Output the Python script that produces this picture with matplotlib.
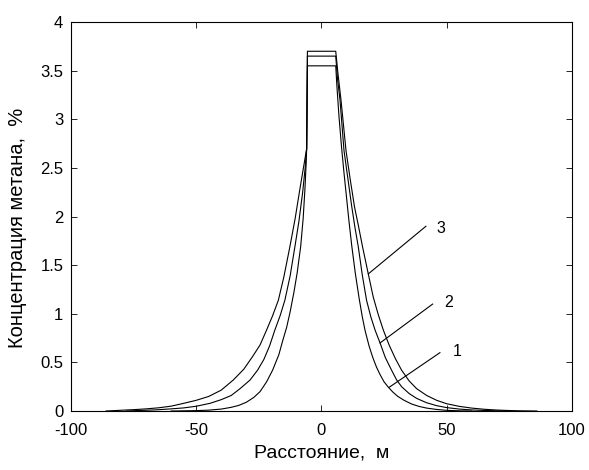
import numpy as np
import matplotlib.pyplot as plt

plt.rcParams['font.family'] = ['Liberation Sans', 'DejaVu Sans']
plt.rcParams['axes.unicode_minus'] = False

# profiles of methane concentration across the working, curves 1-3
x1 = [-60, -55, -50, -45, -40, -36, -33, -30, -27, -24.5, -21.9, -19.5, -17, -15.5, -13.9,
      -12.5, -11, -9.7, -8.3, -7.3, -6.6, -6.1, -5.9, -5.6,
      5.7, 6.2, 7, 8, 9, 10, 11, 12.1, 13.5, 15.1, 16.3, 17.4, 19, 20.5, 22, 23.5, 25, 26.7,
      28.5, 30.5, 33, 36, 39, 42, 46, 50, 55, 60]
c1 = [0.0, 0.002, 0.004, 0.009, 0.02, 0.038, 0.058, 0.09, 0.14, 0.2, 0.3, 0.42, 0.58, 0.72, 0.86,
      1.02, 1.22, 1.42, 1.69, 1.98, 2.28, 2.55, 2.7, 3.55,
      3.55, 3.33, 3.03, 2.72, 2.45, 2.2, 1.95, 1.7, 1.42, 1.15, 0.97, 0.83, 0.67, 0.55, 0.45, 0.37, 0.3, 0.245,
      0.195, 0.15, 0.11, 0.072, 0.047, 0.03, 0.016, 0.007, 0.002, 0.0]

x2 = [-78, -72, -66, -60, -55, -50, -44.5, -40, -36, -32.5, -28.5, -25.5, -23, -20.7, -18.6,
      -16.5, -14.6, -12.5, -10.6, -9, -7.5, -6.5, -5.9, -5.6,
      5.7, 6.4, 7.4, 9, 10.5, 12, 13.3, 14.7, 16.3, 18, 19.7, 21.4, 23.4, 25.5, 28, 30, 32,
      35, 38, 42, 46, 50, 55, 60, 65, 70, 76]
c2 = [0.0, 0.006, 0.012, 0.022, 0.032, 0.049, 0.079, 0.117, 0.16, 0.23, 0.319, 0.42, 0.53, 0.67, 0.833,
      0.98, 1.14, 1.39, 1.69, 1.95, 2.25, 2.5, 2.7, 3.65,
      3.65, 3.42, 3.2, 2.68, 2.4, 2.12, 1.9, 1.69, 1.4, 1.14, 0.97, 0.833, 0.7, 0.55, 0.42, 0.32, 0.25,
      0.18, 0.13, 0.085, 0.055, 0.035, 0.02, 0.011, 0.006, 0.002, 0.0]

x3 = [-86, -80, -75, -70, -65, -60, -55, -50, -45, -40, -35.2, -31, -27.5, -24.5, -21.9,
      -19.5, -17.2, -15, -12.6, -10.5, -8.5, -7, -5.9, -5.6,
      5.7, 6.6, 7.8, 9.8, 11.5, 13.2, 14.8, 16.4, 18.7, 20.7, 22.7, 24.7, 27, 29.5, 32, 35,
      38, 42, 46, 50, 55, 60, 65, 70, 75, 80, 86]
c3 = [0.0, 0.008, 0.014, 0.022, 0.033, 0.05, 0.079, 0.11, 0.15, 0.215, 0.319, 0.43, 0.56, 0.68, 0.833,
      0.98, 1.14, 1.38, 1.69, 1.98, 2.3, 2.53, 2.7, 3.7,
      3.7, 3.47, 3.2, 2.68, 2.38, 2.1, 1.9, 1.69, 1.41, 1.17, 0.99, 0.833, 0.68, 0.54, 0.42, 0.31,
      0.23, 0.16, 0.11, 0.075, 0.048, 0.03, 0.018, 0.01, 0.005, 0.002, 0.0]

# leader lines and curve numbers
leaders = [((18.7, 41.7), (1.41, 1.90)),
           ((23.4, 44.4), (0.70, 1.10)),
           ((27.1, 47.3), (0.245, 0.60))]
tags = ['3', '2', '1']
tag_pos = [(47.6, 1.88), (50.9, 1.12), (54.1, 0.61)]

fig = plt.figure(figsize=(5.89, 4.70), dpi=100)
ax = fig.add_axes([0.1205, 0.1255, 0.8505, 0.8275])

for x, c in [(x1, c1), (x2, c2), (x3, c3)]:
    ax.plot(x, c, color='black', lw=0.8)

for (lx, ly), t, (tx, ty) in zip(leaders, tags, tag_pos):
    ax.plot(lx, ly, color='black', lw=0.8)
    ax.text(tx, ty, t, fontsize=11.5, ha='center', va='center')

ax.set_xlim(-100, 100)
ax.set_ylim(0, 4)
ax.set_xticks([-100, -50, 0, 50, 100])
ax.set_yticks(np.arange(0, 4.01, 0.5))
ax.set_yticklabels(['0', '0.5', '1', '1.5', '2', '2.5', '3', '3.5', '4'])
ax.tick_params(direction='in', top=True, right=True, length=4, width=0.6, labelsize=12)
ax.tick_params(axis='x', pad=8.5)
ax.tick_params(axis='y', pad=5.5)
for s in ax.spines.values():
    s.set_linewidth(0.8)

ax.set_xlabel('Расстояние,  м', fontsize=14, labelpad=5)
ax.set_ylabel('Концентрация метана,  %', fontsize=14.5)
ax.yaxis.set_label_coords(-0.087, 0.47)

fig.savefig('out.png', dpi=100)
